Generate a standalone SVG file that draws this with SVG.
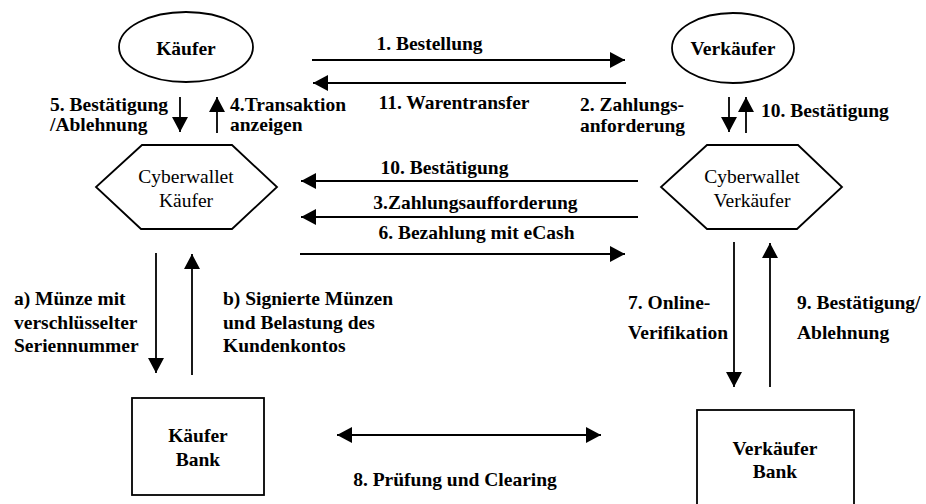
<svg xmlns="http://www.w3.org/2000/svg" width="926" height="504" viewBox="0 0 926 504">
<style>
.b{font-family:'Liberation Serif',serif;font-weight:bold;font-size:19.5px;fill:#000}
.r{font-family:'Liberation Serif',serif;font-size:19.5px;fill:#000}
.m{text-anchor:middle}
.shape{fill:#fff;stroke:#000;stroke-width:1.8}
.c line{stroke:#000;stroke-width:1.8;fill:none}
</style>
<defs>
<marker id="ah" markerUnits="userSpaceOnUse" markerWidth="16" markerHeight="17" refX="15" refY="8" orient="auto-start-reverse" viewBox="0 0 16 17">
<path d="M0,0 L15,8 L0,16 z" fill="#000"/>
</marker>
</defs>
<rect width="926" height="504" fill="#fff"/>
<g id="kaeufer">
<ellipse class="shape" cx="186" cy="47" rx="67" ry="35"/>
<text class="b m" x="186" y="55">Käufer</text>
</g>
<g id="verkaeufer">
<ellipse class="shape" cx="733" cy="48" rx="61" ry="35"/>
<text class="b m" x="733" y="55">Verkäufer</text>
</g>
<g id="cyberwallet-kaeufer">
<polygon class="shape" points="142,145 232,145 277,187 232,229 141,229 96,187"/>
<text class="r m" x="186" y="183">Cyberwallet</text>
<text class="r m" x="186" y="207">Käufer</text>
</g>
<g id="cyberwallet-verkaeufer">
<polygon class="shape" points="707,145 798,145 842,187 797,229 707,229 661,187"/>
<text class="r m" x="752" y="183">Cyberwallet</text>
<text class="r m" x="752" y="207">Verkäufer</text>
</g>
<g id="kaeufer-bank">
<rect class="shape" x="132" y="398" width="132" height="97"/>
<text class="b m" x="198" y="442">Käufer</text>
<text class="b m" x="198" y="466">Bank</text>
</g>
<g id="verkaeufer-bank">
<rect class="shape" x="697" y="410" width="157" height="110"/>
<text class="b m" x="775" y="455">Verkäufer</text>
<text class="b m" x="775" y="478">Bank</text>
</g>
<g id="connectors" class="c">
<line x1="312" y1="60" x2="625" y2="60" marker-end="url(#ah)"/>
<line x1="626" y1="83" x2="313" y2="83" marker-end="url(#ah)"/>
<line x1="180" y1="97" x2="180" y2="132" marker-end="url(#ah)"/>
<line x1="217" y1="133" x2="217" y2="97" marker-end="url(#ah)"/>
<line x1="729" y1="97" x2="729" y2="132" marker-end="url(#ah)"/>
<line x1="746" y1="133" x2="746" y2="97" marker-end="url(#ah)"/>
<line x1="638" y1="181" x2="301" y2="181" marker-end="url(#ah)"/>
<line x1="638" y1="217" x2="301" y2="217" marker-end="url(#ah)"/>
<line x1="300" y1="254" x2="625" y2="254" marker-end="url(#ah)"/>
<line x1="156" y1="253" x2="156" y2="373" marker-end="url(#ah)"/>
<line x1="192" y1="375" x2="192" y2="254" marker-end="url(#ah)"/>
<line x1="734" y1="242" x2="734" y2="387" marker-end="url(#ah)"/>
<line x1="770" y1="387" x2="770" y2="243" marker-end="url(#ah)"/>
<line x1="337" y1="435" x2="601" y2="435" marker-start="url(#ah)" marker-end="url(#ah)"/>
</g>
<g id="labels">
<text class="b m" x="429.5" y="50">1. Bestellung</text>
<text class="b m" x="454" y="109">11. Warentransfer</text>
<text class="b" x="50" y="111">5. Bestätigung</text>
<text class="b" x="50" y="131">/Ablehnung</text>
<text class="b" x="230" y="111">4.Transaktion</text>
<text class="b" x="230" y="131">anzeigen</text>
<text class="b" x="580" y="111">2. Zahlungs-</text>
<text class="b" x="580" y="132">anforderung</text>
<text class="b" x="761" y="117">10. Bestätigung</text>
<text class="b m" x="444.5" y="174">10. Bestätigung</text>
<text class="b m" x="475.5" y="209">3.Zahlungsaufforderung</text>
<text class="b m" x="476.5" y="239">6. Bezahlung mit eCash</text>
<text class="b" x="14" y="305">a) Münze mit</text>
<text class="b" x="14" y="329">verschlüsselter</text>
<text class="b" x="14" y="352">Seriennummer</text>
<text class="b" x="223" y="305">b) Signierte Münzen</text>
<text class="b" x="223" y="329">und Belastung des</text>
<text class="b" x="223" y="352">Kundenkontos</text>
<text class="b" x="628" y="309">7. Online-</text>
<text class="b" x="628" y="339">Verifikation</text>
<text class="b" x="797" y="309">9. Bestätigung/</text>
<text class="b" x="797" y="339">Ablehnung</text>
<text class="b m" x="455" y="486">8. Prüfung und Clearing</text>
</g>
</svg>
